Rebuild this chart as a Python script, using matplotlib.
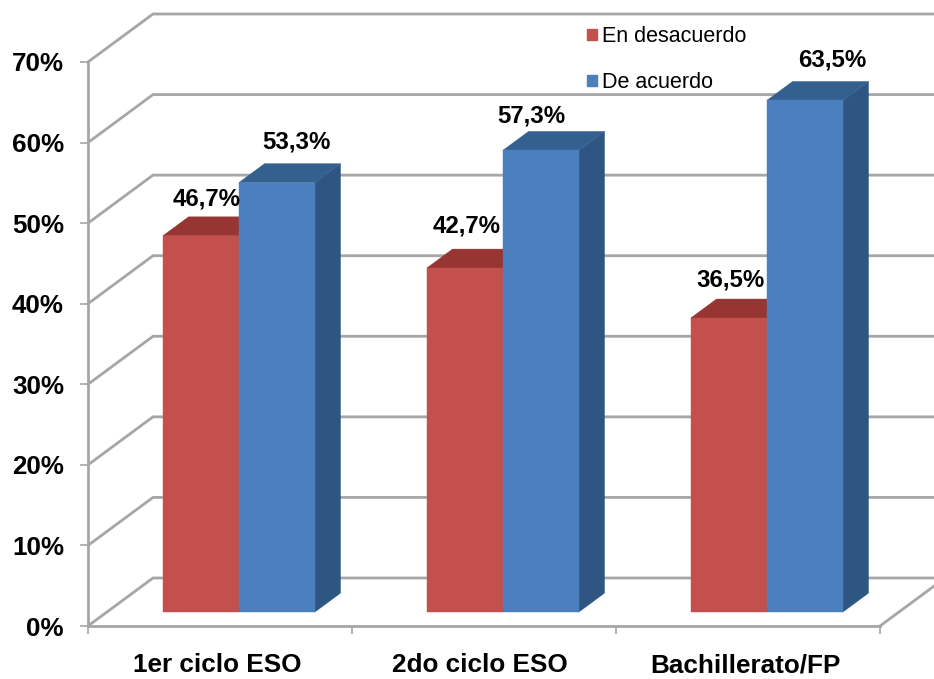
import numpy as np
import matplotlib
matplotlib.use("Agg")
import matplotlib.pyplot as plt
from matplotlib.patches import Polygon, Patch

plt.rcParams['font.family'] = ['Liberation Sans', 'DejaVu Sans']

# Data
categories = ['1er ciclo ESO', '2do ciclo ESO', 'Bachillerato/FP']
en_desacuerdo = [46.7, 42.7, 36.5]
de_acuerdo = [53.3, 57.3, 63.5]
labels_red = ['46,7%', '42,7%', '36,5%']
labels_blue = ['53,3%', '57,3%', '63,5%']
y_ticks = [0, 10, 20, 30, 40, 50, 60, 70]

# Label offsets from the top of the front face, in points (placed by hand in the original)
offs_red = [(4, 26.5), (1, 30), (1, 27)]
offs_blue = [(14, 29), (-7, 25), (20, 29)]

# Fake 3D: depth of the floor in data units
depth_x = 65 / 264
depth_y = 48 / 8.057
bar_d0 = 0.29
bar_d1 = 0.685
bar_w = 76 / 264

W, H = 934, 679
fig = plt.figure(figsize=(W / 100, H / 100), dpi=100)
ax = fig.add_axes([88 / W, (H - 626) / H, 792 / W, 564 / H])
ax.set_xlim(0, 3)
ax.set_ylim(0, 70)

grid_col = '#A6A6A6'
for s in ['top', 'right']:
    ax.spines[s].set_visible(False)
for s in ['left', 'bottom']:
    ax.spines[s].set_color(grid_col)
    ax.spines[s].set_linewidth(2)

# Back wall gridlines and the slanted side wall lines
for v in y_ticks:
    ax.plot([0, depth_x, 3 + depth_x], [v, v + depth_y, v + depth_y],
            color=grid_col, lw=2, clip_on=False, zorder=1, solid_joinstyle='miter')
ax.plot([3, 3 + depth_x], [0, depth_y], color=grid_col, lw=2, clip_on=False, zorder=1)


def box(x0, val, front, top, side):
    x1 = x0 + bar_w
    ax0 = depth_x * bar_d0
    ay0 = depth_y * bar_d0
    ax1 = depth_x * bar_d1
    ay1 = depth_y * bar_d1
    faces = [
        ([(x1 + ax0, ay0), (x1 + ax1, ay1), (x1 + ax1, val + ay1), (x1 + ax0, val + ay0)], side),
        ([(x0 + ax0, val + ay0), (x1 + ax0, val + ay0), (x1 + ax1, val + ay1), (x0 + ax1, val + ay1)], top),
        ([(x0 + ax0, ay0), (x1 + ax0, ay0), (x1 + ax0, val + ay0), (x0 + ax0, val + ay0)], front),
    ]
    for pts, col in faces:
        ax.add_patch(Polygon(pts, closed=True, facecolor=col, edgecolor=col, lw=0.3,
                             clip_on=False, zorder=3))


for i in range(3):
    box(i + 0.5 - bar_w, en_desacuerdo[i], '#C4504D', '#973533', '#8E3230')
    box(i + 0.5, de_acuerdo[i], '#4B7FBD', '#34608F', '#2F5583')
    ax.annotate(labels_red[i], (i + 0.5 - bar_w / 2 + depth_x * bar_d0, en_desacuerdo[i] + depth_y * bar_d0),
                xytext=offs_red[i], textcoords='offset points', ha='center', va='center',
                fontsize=17.3, fontweight='bold', color='black', zorder=5, annotation_clip=False)
    ax.annotate(labels_blue[i], (i + 0.5 + bar_w / 2 + depth_x * bar_d0, de_acuerdo[i] + depth_y * bar_d0),
                xytext=offs_blue[i], textcoords='offset points', ha='center', va='center',
                fontsize=17.3, fontweight='bold', color='black', zorder=5, annotation_clip=False)

ax.set_yticks(y_ticks)
ax.set_yticklabels([str(v) + '%' for v in y_ticks], fontsize=18.7, fontweight='bold')
ax.tick_params(axis='y', length=5.8, width=1.2, color=grid_col, pad=11.5)

ax.set_xticks([0, 1, 2, 3])
ax.set_xticklabels([])
ax.tick_params(axis='x', which='major', length=5.8, width=1.2, color=grid_col)
ax.set_xticks([0.49, 1.485, 2.49], minor=True)
ax.set_xticklabels(categories, minor=True, fontsize=18.8, fontweight='bold')
ax.tick_params(axis='x', which='minor', length=0, pad=19.6)

handles = [Patch(color='#C4504D', label='En desacuerdo'), Patch(color='#4B7FBD', label='De acuerdo')]
fig.legend(handles=handles, loc='upper left', bbox_to_anchor=(568 / W, 1 - 7 / H), frameon=False,
           fontsize=15.5, handlelength=0.45, handleheight=0.45, handletextpad=0.25, labelspacing=1.16)

fig.savefig('out.png', dpi=100)
